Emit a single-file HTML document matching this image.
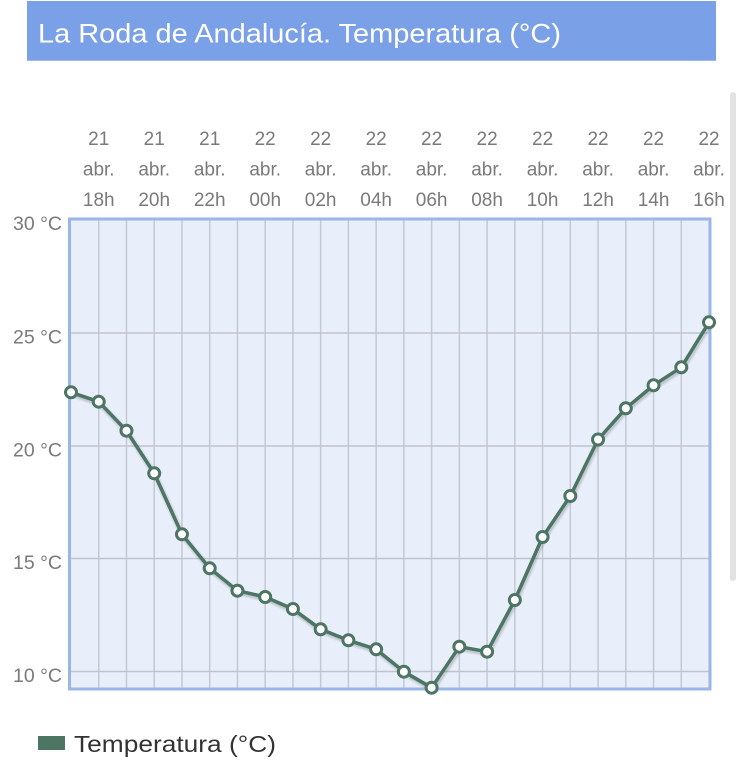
<!DOCTYPE html>
<html>
<head>
<meta charset="utf-8">
<style>
  html, body { margin:0; padding:0; background:#ffffff; }
  body { width:742px; height:768px; overflow:hidden; }
  svg { display:block; }
  text { font-family: "Liberation Sans", "DejaVu Sans", sans-serif; }
</style>
</head>
<body>
<svg width="742" height="768" viewBox="0 0 742 768" xmlns="http://www.w3.org/2000/svg">
  <!-- Title bar -->
  <rect x="27" y="1" width="689" height="60" fill="#7aa0e7"/>
  <rect x="27" y="60" width="689" height="1" fill="#9dbaee"/>
  <text x="38" y="42.5" font-size="27" fill="#ffffff" textLength="523" lengthAdjust="spacingAndGlyphs">La Roda de Andalucía. Temperatura (°C)</text>

  <!-- Scrollbar -->
  <rect x="730" y="92" width="6" height="489" rx="3" ry="3" fill="#e2e2e2"/>

  <!-- Plot background -->
  <rect x="69.5" y="219" width="640.5" height="470" fill="#e8eefa"/>

  <!-- Vertical gridlines -->
  <g stroke="#c4c9d4" stroke-width="1.5">
    <line x1="98.74" y1="219" x2="98.74" y2="689"/>
    <line x1="126.48" y1="219" x2="126.48" y2="689"/>
    <line x1="154.22" y1="219" x2="154.22" y2="689"/>
    <line x1="181.96" y1="219" x2="181.96" y2="689"/>
    <line x1="209.7" y1="219" x2="209.7" y2="689"/>
    <line x1="237.44" y1="219" x2="237.44" y2="689"/>
    <line x1="265.18" y1="219" x2="265.18" y2="689"/>
    <line x1="292.92" y1="219" x2="292.92" y2="689"/>
    <line x1="320.66" y1="219" x2="320.66" y2="689"/>
    <line x1="348.4" y1="219" x2="348.4" y2="689"/>
    <line x1="376.14" y1="219" x2="376.14" y2="689"/>
    <line x1="403.88" y1="219" x2="403.88" y2="689"/>
    <line x1="431.62" y1="219" x2="431.62" y2="689"/>
    <line x1="459.36" y1="219" x2="459.36" y2="689"/>
    <line x1="487.1" y1="219" x2="487.1" y2="689"/>
    <line x1="514.84" y1="219" x2="514.84" y2="689"/>
    <line x1="542.58" y1="219" x2="542.58" y2="689"/>
    <line x1="570.32" y1="219" x2="570.32" y2="689"/>
    <line x1="598.06" y1="219" x2="598.06" y2="689"/>
    <line x1="625.8" y1="219" x2="625.8" y2="689"/>
    <line x1="653.54" y1="219" x2="653.54" y2="689"/>
    <line x1="681.28" y1="219" x2="681.28" y2="689"/>
  </g>
  <!-- Horizontal gridlines -->
  <g stroke="#c0c4ce" stroke-width="1.5">
    <line x1="69.5" y1="333" x2="710" y2="333"/>
    <line x1="69.5" y1="446" x2="710" y2="446"/>
    <line x1="69.5" y1="558.5" x2="710" y2="558.5"/>
    <line x1="69.5" y1="671.5" x2="710" y2="671.5"/>
  </g>

  <!-- Plot border -->
  <rect x="69.5" y="219" width="640.5" height="470" fill="none" stroke="#9ab6e6" stroke-width="3"/>

  <!-- Y axis labels -->
  <g font-size="19.5" fill="#7a7a7a" text-anchor="end">
    <text x="62" y="230">30 °C</text>
    <text x="62" y="343.5">25 °C</text>
    <text x="62" y="456.5">20 °C</text>
    <text x="62" y="569">15 °C</text>
    <text x="62" y="682">10 °C</text>
  </g>

  <!-- X axis labels -->
  <g font-size="19" fill="#7a7a7a" text-anchor="middle">
    <text x="98.74" y="145">21</text><text x="98.74" y="175.5">abr.</text><text x="98.74" y="206">18h</text>
    <text x="154.22" y="145">21</text><text x="154.22" y="175.5">abr.</text><text x="154.22" y="206">20h</text>
    <text x="209.7" y="145">21</text><text x="209.7" y="175.5">abr.</text><text x="209.7" y="206">22h</text>
    <text x="265.18" y="145">22</text><text x="265.18" y="175.5">abr.</text><text x="265.18" y="206">00h</text>
    <text x="320.66" y="145">22</text><text x="320.66" y="175.5">abr.</text><text x="320.66" y="206">02h</text>
    <text x="376.14" y="145">22</text><text x="376.14" y="175.5">abr.</text><text x="376.14" y="206">04h</text>
    <text x="431.62" y="145">22</text><text x="431.62" y="175.5">abr.</text><text x="431.62" y="206">06h</text>
    <text x="487.1" y="145">22</text><text x="487.1" y="175.5">abr.</text><text x="487.1" y="206">08h</text>
    <text x="542.58" y="145">22</text><text x="542.58" y="175.5">abr.</text><text x="542.58" y="206">10h</text>
    <text x="598.06" y="145">22</text><text x="598.06" y="175.5">abr.</text><text x="598.06" y="206">12h</text>
    <text x="653.54" y="145">22</text><text x="653.54" y="175.5">abr.</text><text x="653.54" y="206">14h</text>
    <text x="709.02" y="145">22</text><text x="709.02" y="175.5">abr.</text><text x="709.02" y="206">16h</text>
  </g>

  <!-- Series shadow -->
  <g fill="none" stroke-linejoin="round" stroke-linecap="round" transform="translate(1,2)">
    <polyline stroke="rgba(0,0,0,0.06)" stroke-width="7" points="71,392.3 98.74,401.7 126.48,430.7 154.22,473.3 181.96,534.3 209.7,568.3 237.44,590.7 265.18,597 292.92,609 320.66,629.3 348.4,640.3 376.14,649.3 403.88,671.7 431.62,687.7 459.36,646.7 487.1,651.7 514.84,600 542.58,537 570.32,496 598.06,439.5 625.8,408.3 653.54,385.3 681.28,367.3 709.02,322.3"/>
    <polyline stroke="rgba(0,0,0,0.1)" stroke-width="4" points="71,392.3 98.74,401.7 126.48,430.7 154.22,473.3 181.96,534.3 209.7,568.3 237.44,590.7 265.18,597 292.92,609 320.66,629.3 348.4,640.3 376.14,649.3 403.88,671.7 431.62,687.7 459.36,646.7 487.1,651.7 514.84,600 542.58,537 570.32,496 598.06,439.5 625.8,408.3 653.54,385.3 681.28,367.3 709.02,322.3"/>
  </g>

  <!-- Series line -->
  <polyline fill="none" stroke="#4d7563" stroke-width="3.5" stroke-linejoin="round" stroke-linecap="round" points="71,392.3 98.74,401.7 126.48,430.7 154.22,473.3 181.96,534.3 209.7,568.3 237.44,590.7 265.18,597 292.92,609 320.66,629.3 348.4,640.3 376.14,649.3 403.88,671.7 431.62,687.7 459.36,646.7 487.1,651.7 514.84,600 542.58,537 570.32,496 598.06,439.5 625.8,408.3 653.54,385.3 681.28,367.3 709.02,322.3"/>

  <!-- Markers -->
  <g fill="#ffffff" stroke="#4d7563" stroke-width="3">
    <circle cx="71" cy="392.3" r="5.5"/>
    <circle cx="98.74" cy="401.7" r="5.5"/>
    <circle cx="126.48" cy="430.7" r="5.5"/>
    <circle cx="154.22" cy="473.3" r="5.5"/>
    <circle cx="181.96" cy="534.3" r="5.5"/>
    <circle cx="209.7" cy="568.3" r="5.5"/>
    <circle cx="237.44" cy="590.7" r="5.5"/>
    <circle cx="265.18" cy="597" r="5.5"/>
    <circle cx="292.92" cy="609" r="5.5"/>
    <circle cx="320.66" cy="629.3" r="5.5"/>
    <circle cx="348.4" cy="640.3" r="5.5"/>
    <circle cx="376.14" cy="649.3" r="5.5"/>
    <circle cx="403.88" cy="671.7" r="5.5"/>
    <circle cx="431.62" cy="687.7" r="5.5"/>
    <circle cx="459.36" cy="646.7" r="5.5"/>
    <circle cx="487.1" cy="651.7" r="5.5"/>
    <circle cx="514.84" cy="600" r="5.5"/>
    <circle cx="542.58" cy="537" r="5.5"/>
    <circle cx="570.32" cy="496" r="5.5"/>
    <circle cx="598.06" cy="439.5" r="5.5"/>
    <circle cx="625.8" cy="408.3" r="5.5"/>
    <circle cx="653.54" cy="385.3" r="5.5"/>
    <circle cx="681.28" cy="367.3" r="5.5"/>
    <circle cx="709.02" cy="322.3" r="5.5"/>
  </g>

  <!-- Legend -->
  <rect x="38" y="736" width="27" height="14" fill="#4d7563"/>
  <text x="74" y="752" font-size="23" fill="#333333" textLength="202" lengthAdjust="spacingAndGlyphs">Temperatura (°C)</text>
</svg>
</body>
</html>
